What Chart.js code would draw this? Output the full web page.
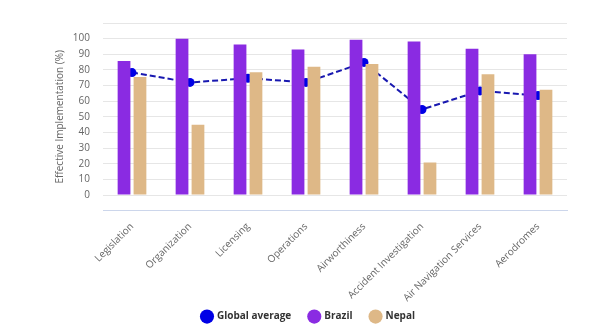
<!DOCTYPE html>
<html>

<head>
    <title>Effective Implementation</title>
    <script src="https://cdn.jsdelivr.net/npm/chart.js"></script>
    <style>
        body {
            margin: 0;
            background: #fff;
        }

        #chartContainer {
            width: 614px;
            height: 330px;
        }
    </style>
</head>

<body>
    <div id="chartContainer">
        <canvas id="myChart" width="614" height="330"></canvas>
    </div>

    <script>
        // categories and values
        const categories = ['Legislation', 'Organization', 'Licensing', 'Operations', 'Airworthiness',
            'Accident Investigation', 'Air Navigation Services', 'Aerodromes'];
        const globalAverage = [78.3, 72, 74.7, 72, 84.8, 54.7, 66.6, 63.6];
        const brazilValues = [85.7, 100, 96.3, 93, 99.3, 98.2, 93.5, 90];
        const nepalValues = [75.5, 45, 78.5, 82, 83.8, 20.8, 77.3, 67.3];

        // the rotated labels run a bit into the legend band, so let them draw there
        // and keep the plot at a fixed spot: left 103, right 567
        const labelRoom = {
            id: 'labelRoom',
            afterLayout(chart) {
                chart.scales.x.bottom = chart.height;
                const area = chart.chartArea;
                area.left = 103;
                area.right = 567;
                area.width = area.right - area.left;
                const x = chart.scales.x, y = chart.scales.y;
                x.left = area.left; x.right = area.right; x.width = area.width;
                x.configure();
                y.left = 50; y.right = area.left; y.width = y.right - y.left;
            }
        };

        const ctx = document.getElementById('myChart').getContext('2d');
        const myChart = new Chart(ctx, {
            data: {
                labels: categories,
                datasets: [{
                    type: 'line',
                    label: 'Global average',
                    data: globalAverage,
                    borderColor: '#1818b0',
                    backgroundColor: '#0000e6',
                    borderWidth: 2,
                    borderDash: [6, 3],
                    pointRadius: 4.5,
                    pointBackgroundColor: '#0000e6',
                    pointBorderWidth: 0,
                    pointStyle: 'circle',
                    order: 3
                }, {
                    type: 'bar',
                    label: 'Brazil',
                    data: brazilValues,
                    backgroundColor: '#8a2be2',
                    borderColor: '#8a2be2',
                    barPercentage: 0.8,
                    categoryPercentage: 0.55,
                    order: 1
                }, {
                    type: 'bar',
                    label: 'Nepal',
                    data: nepalValues,
                    backgroundColor: '#deb887',
                    borderColor: '#deb887',
                    barPercentage: 0.8,
                    categoryPercentage: 0.55,
                    order: 2
                }]
            },
            plugins: [labelRoom],
            options: {
                responsive: false,
                animation: false,
                layout: {
                    padding: { left: 50, right: 47, top: 23, bottom: -1.6 }
                },
                plugins: {
                    tooltip: { enabled: false },
                    legend: {
                        position: 'bottom',
                        labels: {
                            usePointStyle: true,
                            pointStyle: 'circle',
                            boxWidth: 10,
                            boxHeight: 10,
                            padding: 18,
                            color: '#333',
                            font: { family: 'Open Sans', size: 10, weight: 'bold' },
                            sort: (a, b) => a.datasetIndex - b.datasetIndex,
                            generateLabels: function (chart) {
                                const items = Chart.defaults.plugins.legend.labels.generateLabels(chart);
                                items.forEach(it => {
                                    it.lineDash = [];
                                    it.lineWidth = 0;
                                    it.fillStyle = chart.data.datasets[it.datasetIndex].backgroundColor;
                                    it.strokeStyle = it.fillStyle;
                                });
                                return items;
                            }
                        }
                    }
                },
                scales: {
                    x: {
                        grid: { display: false },
                        border: { color: '#ccd6eb' },
                        afterFit: function (scale) {
                            scale.height -= 12.4;
                        },
                        ticks: {
                            autoSkip: false,
                            minRotation: 45,
                            maxRotation: 45,
                            labelOffset: 0,
                            padding: 2,
                            color: '#666',
                            font: { family: 'Open Sans', size: 10 }
                        }
                    },
                    y: {
                        min: -10,
                        max: 110,
                        border: { display: false },
                        grid: {
                            drawTicks: false,
                            color: function (c) {
                                return c.tick && c.tick.value === -10 ? '#ccd6eb' : '#e6e6e6';
                            }
                        },
                        ticks: {
                            autoSkip: false,
                            stepSize: 10,
                            padding: 13,
                            color: '#666',
                            font: { family: 'Open Sans', size: 10 },
                            callback: function (v) {
                                return (v < 0 || v > 100) ? '' : v;
                            }
                        },
                        title: {
                            display: true,
                            text: 'Effective Implementation (%)',
                            color: '#666',
                            padding: { top: 4, bottom: 0 },
                            font: { family: 'Open Sans', size: 10 }
                        }
                    }
                }
            }
        });
    </script>
</body>

</html>
